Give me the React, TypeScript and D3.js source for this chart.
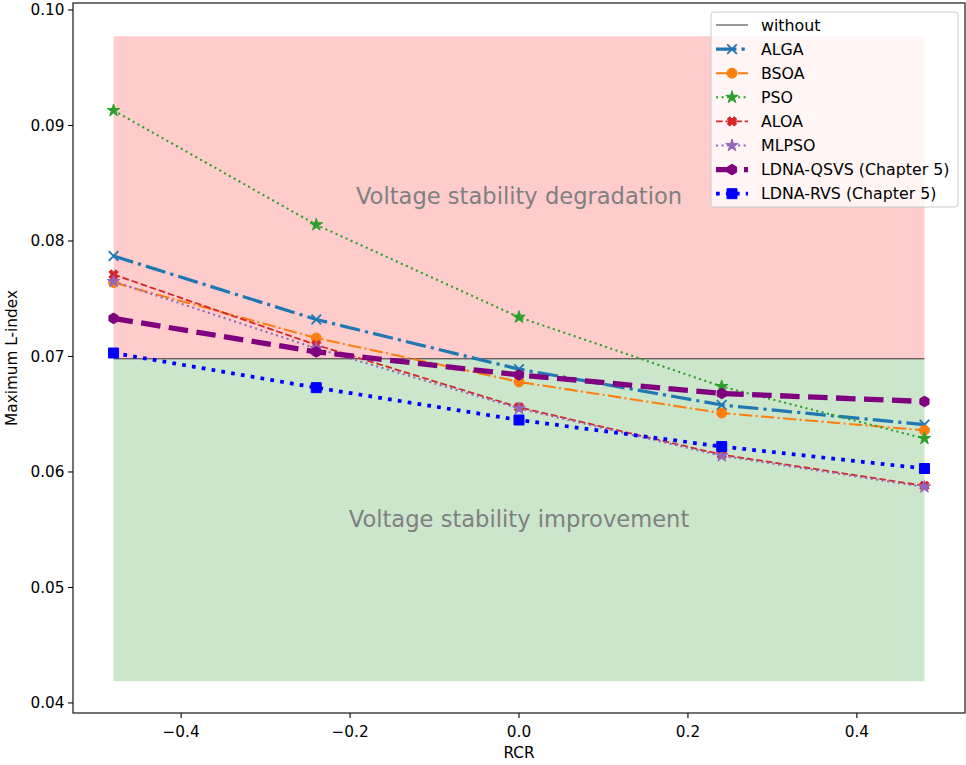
import React from "react";
import * as d3 from "d3";

// RCR values on the x axis
const rcr = [-0.48, -0.24, 0, 0.24, 0.48];
const withoutValue = 0.0698;

const algaVals = [0.0787, 0.0732, 0.0689, 0.0658, 0.0641];
const bsoaVals = [0.0764, 0.0716, 0.0678, 0.0651, 0.0636];
const psoVals = [0.0913, 0.0814, 0.0734, 0.0674, 0.0629];
const aloaVals = [0.0771, 0.0710, 0.0656, 0.0615, 0.0588];
const mlpsoVals = [0.0765, 0.0707, 0.0655, 0.0614, 0.0587];
const qsvsVals = [0.0733, 0.0704, 0.0684, 0.0668, 0.0661];
const rvsVals = [0.0703, 0.0673, 0.0645, 0.0622, 0.0603];

const yTicks = [0.04, 0.05, 0.06, 0.07, 0.08, 0.09, 0.1];
const xTicks = [-0.4, -0.2, 0, 0.2, 0.4];

const PT = 1.389;

type Series = {
  label: string;
  values: number[];
  color: string;
  lw: number;
  style: "dashdot" | "dashed" | "dotted";
  marker: "x" | "o" | "star" | "X" | "hex" | "square";
};

const series: Series[] = [
  { label: "ALGA", values: algaVals, color: "#1f77b4", lw: 2.3, style: "dashdot", marker: "x" },
  { label: "BSOA", values: bsoaVals, color: "#ff7f0e", lw: 1.5, style: "dashdot", marker: "o" },
  { label: "PSO", values: psoVals, color: "#2ca02c", lw: 1.5, style: "dotted", marker: "star" },
  { label: "ALOA", values: aloaVals, color: "#d62728", lw: 1.3, style: "dashed", marker: "X" },
  { label: "MLPSO", values: mlpsoVals, color: "#9467bd", lw: 1.5, style: "dotted", marker: "star" },
  { label: "LDNA-QSVS (Chapter 5)", values: qsvsVals, color: "purple", lw: 3.8, style: "dashed", marker: "hex" },
  { label: "LDNA-RVS (Chapter 5)", values: rvsVals, color: "blue", lw: 2.7, style: "dotted", marker: "square" },
];

function dashArray(style: string, lw: number) {
  const base = style === "dashed" ? [3.7, 1.6] : style === "dashdot" ? [6.4, 1.6, 1, 1.6] : [1, 1.65];
  return base.map((d) => (d * lw * PT).toFixed(2)).join(",");
}

function markerPath(m: string) {
  if (m === "x") return "M-4.8,-4.8L4.8,4.8M-4.8,4.8L4.8,-4.8";
  if (m === "o") return d3.symbol().type(d3.symbolCircle).size(78)() as string;
  if (m === "star") return d3.symbol().type(d3.symbolStar).size(48)() as string;
  if (m === "square") return "M-5,-5L5,-5L5,5L-5,5Z";
  if (m === "hex") {
    const pts = d3.range(6).map((i) => {
      const a = (Math.PI / 3) * i - Math.PI / 2;
      return [5.3 * Math.cos(a), 5.3 * Math.sin(a)];
    });
    return "M" + pts.map((p) => p.join(",")).join("L") + "Z";
  }
  // filled X
  const w = 1.7, r = 5;
  const arm = [[-w, -r], [w, -r], [w, -w], [r, -w], [r, w], [w, w], [w, r], [-w, r], [-w, w], [-r, w], [-r, -w], [-w, -w]];
  const c = Math.SQRT1_2;
  return "M" + arm.map(([x, y]) => [(x - y) * c, (x + y) * c].map((v) => v.toFixed(2)).join(",")).join("L") + "Z";
}

function Marker({ s, x, y }: { s: Series; x: number; y: number }) {
  const stroke = s.marker === "x";
  return (
    <path
      d={markerPath(s.marker)}
      transform={`translate(${x},${y})`}
      fill={stroke ? "none" : s.color}
      stroke={s.color}
      strokeWidth={stroke ? 1.8 : 1}
    />
  );
}

export default function App() {
  const width = 966, height = 765;
  const left = 73, right = 965, top = 3, bottom = 713;

  const x = d3.scaleLinear().domain([-0.528, 0.528]).range([left, right]);
  const y = d3.scaleLinear().domain([0.03913, 0.100606]).range([bottom, top]);

  const line = d3
    .line<number>()
    .x((_, i) => x(rcr[i]))
    .y((d) => y(d));

  const lo = withoutValue * 0.6;
  const hi = withoutValue * 1.4;
  const x0 = x(rcr[0]), x1 = x(rcr[rcr.length - 1]);

  const fmtX = (v: number) => (v < 0 ? "\u2212" : "") + Math.abs(v).toFixed(1);

  const legendRows = [{ label: "without" } as any, ...series];

  return (
    <svg width={width} height={height} style={{ position: "absolute", left: 0, top: 0, fontFamily: "DejaVu Sans" }}>
      <rect width={width} height={height} fill="#fff" />
      <rect x={x0} y={y(withoutValue)} width={x1 - x0} height={y(lo) - y(withoutValue)} fill="#cce6cc" />
      <rect x={x0} y={y(hi)} width={x1 - x0} height={y(withoutValue) - y(hi)} fill="#ffcccc" />

      <text x={x(0)} y={y(0.0839)} dy="0.35em" textAnchor="middle" fontSize={22.6} fill="gray">
        Voltage stability degradation
      </text>
      <text x={x(0)} y={y(0.0559)} dy="0.35em" textAnchor="middle" fontSize={22.6} fill="gray">
        Voltage stability improvement
      </text>

      <line x1={x0} x2={x1} y1={y(withoutValue)} y2={y(withoutValue)} stroke="#000" strokeWidth={0.8} />

      {series.map((s) => (
        <g key={s.label}>
          <path
            d={line(s.values) as string}
            fill="none"
            stroke={s.color}
            strokeWidth={s.lw * PT}
            strokeDasharray={dashArray(s.style, s.lw)}
          />
          {s.values.map((v, i) => (
            <Marker key={i} s={s} x={x(rcr[i])} y={y(v)} />
          ))}
        </g>
      ))}

      {/* axes frame */}
      <rect x={left} y={top} width={right - left} height={bottom - top} fill="none" stroke="#000" strokeWidth={1.1} />

      {yTicks.map((t) => (
        <g key={t} transform={`translate(${left},${y(t)})`}>
          <line x1={-4.9} x2={0} stroke="#000" strokeWidth={1.1} />
          <text x={-8.5} dy="0.35em" textAnchor="end" fontSize={15.3} fill="#000">
            {t.toFixed(2)}
          </text>
        </g>
      ))}
      {xTicks.map((t) => (
        <g key={t} transform={`translate(${x(t)},${bottom})`}>
          <line y1={0} y2={4.9} stroke="#000" strokeWidth={1.1} />
          <text y={24} textAnchor="middle" fontSize={15.3} fill="#000">
            {fmtX(t)}
          </text>
        </g>
      ))}
      <text x={x(0)} y={758} textAnchor="middle" fontSize={15.3}>
        RCR
      </text>
      <text transform={`translate(17,${(top + bottom) / 2}) rotate(-90)`} textAnchor="middle" fontSize={15.3}>
        Maximum L-index
      </text>

      {/* legend */}
      <g>
        <rect x={711} y={12} width={247} height={195} rx={3} fill="#fff" fillOpacity={0.8} stroke="#cccccc" strokeWidth={1} />
        {legendRows.map((r: any, i: number) => {
          const cy = 25 + i * 24.1;
          return (
            <g key={r.label}>
              {i === 0 ? (
                <line x1={716} x2={748} y1={cy} y2={cy} stroke="#000" strokeWidth={0.8} />
              ) : (
                <>
                  <line
                    x1={716}
                    x2={748}
                    y1={cy}
                    y2={cy}
                    stroke={r.color}
                    strokeWidth={r.lw * PT}
                    strokeDasharray={dashArray(r.style, r.lw)}
                  />
                  <Marker s={r} x={732} y={cy} />
                </>
              )}
              <text x={761} y={cy} dy="0.35em" fontSize={15.8} fill="#000">
                {r.label}
              </text>
            </g>
          );
        })}
      </g>
    </svg>
  );
}
